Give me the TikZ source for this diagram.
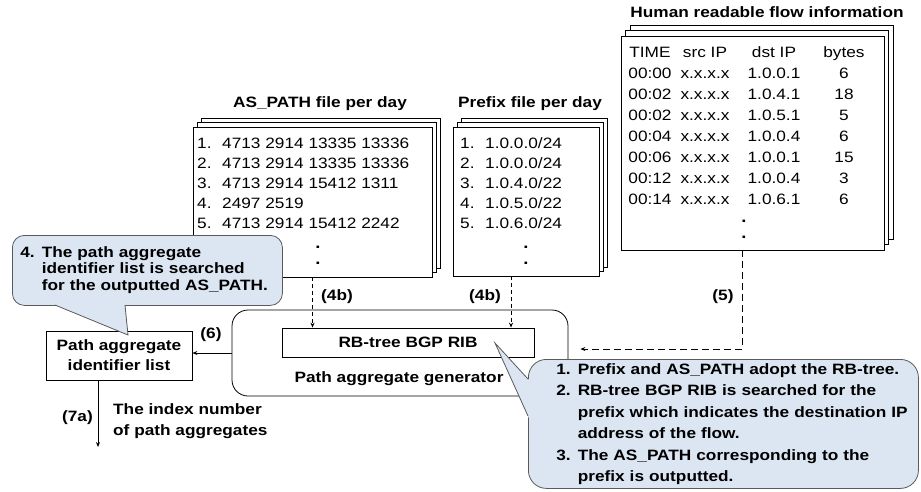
\documentclass[tikz,border=0pt]{standalone}
\usepackage{fontspec}
\setmainfont{Liberation Sans}[FakeStretch=1.15]
\usepackage{tikz}
\usetikzlibrary{arrows.meta, positioning, calc}
\definecolor{calloutblue}{RGB}{220,230,243}
\definecolor{calloutline}{RGB}{90,90,90}

\begin{document}
\begin{tikzpicture}[x=1pt, y=-1pt,
    filepage/.style={draw, line width=0.8pt, fill=white, inner sep=0pt},
    listtext/.style={font=\fontsize{15}{20}\selectfont, inner sep=0pt, align=left},
    headtext/.style={font=\bfseries\fontsize{15}{18}\selectfont, inner sep=0pt},
    flowcol/.style={font=\fontsize{15}{21}\selectfont, inner sep=0pt, align=center, anchor=base},
    dotpair/.style={font=\bfseries\fontsize{16}{16}\selectfont, inner sep=0pt, align=center, anchor=base},
    framebox/.style={draw, line width=0.8pt, inner sep=0pt},
    arr/.style={-{Stealth[length=5pt, width=4pt]}, line width=0.8pt},
    darr/.style={arr, dash pattern=on 4pt off 3pt},
    callout/.style={draw=calloutline, fill=calloutblue, line width=0.8pt, align=left, inner ysep=0pt, anchor=north west}
]
    \useasboundingbox (0,0) rectangle (921,491);

    % AS_PATH file (multi-line nodes sit on their last baseline)
    \node[filepage, minimum width=239pt, minimum height=150pt] (asback2) at (320.5,193) {};
    \node[filepage, minimum width=239pt, minimum height=150pt] (asback1) at (316.5,197.5) {};
    \node[filepage, minimum width=239pt, minimum height=150pt] (asfile) at (312.5,202) {};
    \node[headtext, anchor=base] (astitle) at (320,107) {AS\_PATH file per day};
    \node[listtext, anchor=base west] (asnum) at (197,228) {1.\\2.\\3.\\4.\\5.};
    \node[listtext, anchor=base west] (aspath) at (222,228) {4713 2914 13335 13336\\4713 2914 13335 13336\\4713 2914 15412 1311\\2497 2519\\4713 2914 15412 2242};
    \node[dotpair] (asdots) at (318,264) {.\\.};

    % Prefix file
    \node[filepage, minimum width=146pt, minimum height=149pt] (pfback2) at (534,192.5) {};
    \node[filepage, minimum width=146pt, minimum height=149pt] (pfback1) at (530,197) {};
    \node[filepage, minimum width=146pt, minimum height=149pt] (pfile) at (526,201.5) {};
    \node[headtext, anchor=base] (pftitle) at (530,107) {Prefix file per day};
    \node[listtext, anchor=base west] (pfnum) at (460,228) {1.\\2.\\3.\\4.\\5.};
    \node[listtext, anchor=base west] (pfaddr) at (485,228) {1.0.0.0/24\\1.0.0.0/24\\1.0.4.0/22\\1.0.5.0/22\\1.0.6.0/24};
    \node[dotpair] (pfdots) at (526,264) {.\\.};

    % Flow information
    \node[filepage, minimum width=263pt, minimum height=214pt] (flback2) at (761.5,132) {};
    \node[filepage, minimum width=263pt, minimum height=214pt] (flback1) at (757,137.5) {};
    \node[filepage, minimum width=263pt, minimum height=214pt] (flow) at (752.5,143) {};
    \node[headtext, anchor=base] (fltitle) at (767,17) {Human readable flow information};
    \node[flowcol] (fltime) at (650,204) {TIME\\00:00\\00:02\\00:02\\00:04\\00:06\\00:12\\00:14};
    \node[flowcol] (flsrc) at (705,204) {src IP\\x.x.x.x\\x.x.x.x\\x.x.x.x\\x.x.x.x\\x.x.x.x\\x.x.x.x\\x.x.x.x};
    \node[flowcol] (fldst) at (774,204) {dst IP\\1.0.0.1\\1.0.4.1\\1.0.5.1\\1.0.0.4\\1.0.0.1\\1.0.0.4\\1.0.6.1};
    \node[flowcol] (flbytes) at (844,204) {bytes\\6\\18\\5\\6\\15\\3\\6};
    \node[dotpair] (fldots) at (744,238) {.\\.};

    % Path aggregate generator
    \node[framebox, rounded corners=16pt, minimum width=336pt, minimum height=86pt] (gen) at (400,353) {};
    \node[framebox, headtext, minimum width=252pt, minimum height=29pt] (rib) at (408,342.5) {RB-tree BGP RIB};
    \node[headtext, anchor=base] (genname) at (399,382) {Path aggregate generator};

    % Identifier list
    \node[framebox, minimum width=146pt, minimum height=49pt, align=center, font=\bfseries\fontsize{15}{20}\selectfont] (aglist) at (119,355.5) {Path aggregate\\identifier list};

    % Arrows
    \draw[darr] (asfile.south) -- (asfile.south |- rib.north);
    \draw[darr] ([xshift=-15pt]pfile.south) -- ([xshift=-15pt]pfile.south |- rib.north);
    \node[headtext, anchor=base] (lab4a) at (337,300) {(4b)};
    \node[headtext, anchor=base] (lab4b) at (485,300) {(4b)};

    \coordinate (bend5) at (742,349);
    \draw[arr, dash pattern=on 7pt off 4pt, shorten >=12pt] (flow.south -| bend5) -- (bend5) -- (gen.east |- bend5);
    \node[headtext, anchor=base] (lab5) at (723,300) {(5)};

    \draw[arr] (gen.west) -- (aglist.east |- gen.west);
    \node[headtext, anchor=base] (lab6) at (211,338) {(6)};

    \coordinate (out7a) at (98,447);
    \draw[arr] (aglist.south -| out7a) -- (out7a);
    \node[headtext, anchor=base east] (lab7a) at (93,421) {(7a)};
    \node[headtext, anchor=base west, align=left, font=\bfseries\fontsize{15}{21}\selectfont] (idxtext) at (113,435) {The index number\\of path aggregates};

    % Callout 4
    \node[callout, rounded corners=12pt, minimum width=270pt, minimum height=70pt, text width=254pt, inner xsep=8pt, font=\bfseries\fontsize{15}{16.7}\selectfont] (note4) at (12,235)
        {\begin{tabular}{@{}l@{\hspace{7pt}}l@{}}4. & The path aggregate\\ & identifier list is searched\\ & for the outputted AS\_PATH.\end{tabular}};
    \fill[calloutblue] (50.4,303) -- (128,335) -- (124.8,303) -- cycle;
    \draw[calloutline, line width=0.8pt] (55,305) -- (128,335) -- (125,305);

    % Callout 1-3
    \node[callout, rounded corners=18pt, minimum width=390pt, minimum height=128pt, text width=334pt, inner xsep=28pt, font=\bfseries\fontsize{15}{21.5}\selectfont] (note13) at (528,359)
        {\begin{tabular}{@{}l@{\hspace{7pt}}l@{}}1. & Prefix and AS\_PATH adopt the RB-tree.\\2. & RB-tree BGP RIB is searched for the\\ & prefix which indicates the destination IP\\ & address of the flow.\\3. & The AS\_PATH corresponding to the\\ & prefix is outputted.\end{tabular}};
    \fill[calloutblue] (530,381) -- (495,343) -- (530,420.4) -- cycle;
    \draw[calloutline, line width=0.8pt] (528,379) -- (495,343) -- (528,416);
\end{tikzpicture}
\end{document}
